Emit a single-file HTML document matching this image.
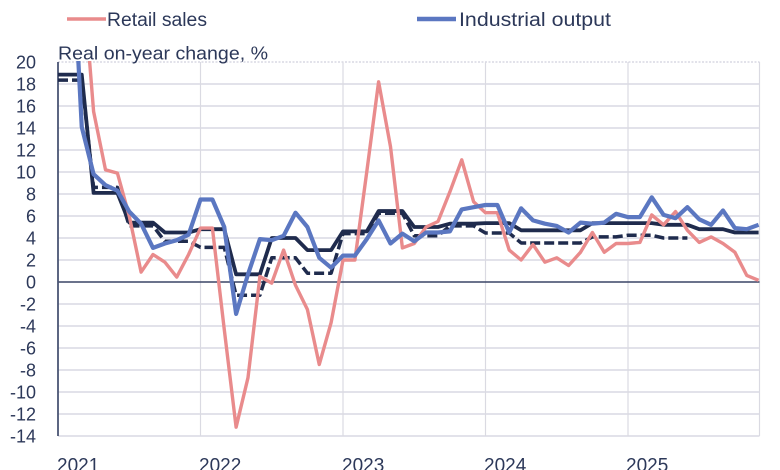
<!DOCTYPE html>
<html>
<head>
<meta charset="utf-8">
<style>
html,body{margin:0;padding:0;background:#fff;}
svg{display:block;}
text{font-family:"Liberation Sans",Arial,sans-serif;fill:#2c3859;}
</style>
</head>
<body>
<svg width="780" height="470" viewBox="0 0 780 470" xmlns="http://www.w3.org/2000/svg">
<defs>
<clipPath id="pc"><rect x="56" y="61" width="706" height="377"/></clipPath>
</defs>
<rect x="0" y="0" width="780" height="470" fill="#fff"/>

<!-- horizontal gridlines -->
<g stroke="#d9d9e4" stroke-width="1.5">
<line x1="58" y1="62" x2="759.5" y2="62" stroke-dasharray="2 1.5"/>
<line x1="58" y1="84" x2="759.5" y2="84"/>
<line x1="58" y1="106" x2="759.5" y2="106"/>
<line x1="58" y1="128" x2="759.5" y2="128"/>
<line x1="58" y1="150" x2="759.5" y2="150"/>
<line x1="58" y1="172" x2="759.5" y2="172"/>
<line x1="58" y1="194" x2="759.5" y2="194"/>
<line x1="58" y1="216" x2="759.5" y2="216"/>
<line x1="58" y1="238" x2="759.5" y2="238"/>
<line x1="58" y1="260" x2="759.5" y2="260"/>
<line x1="58" y1="304" x2="759.5" y2="304"/>
<line x1="58" y1="326" x2="759.5" y2="326"/>
<line x1="58" y1="348" x2="759.5" y2="348"/>
<line x1="58" y1="370" x2="759.5" y2="370"/>
<line x1="58" y1="392" x2="759.5" y2="392"/>
<line x1="58" y1="414" x2="759.5" y2="414"/>
<line x1="58" y1="436" x2="759.5" y2="436"/>
</g>
<!-- vertical gridlines -->
<g stroke="#dadae2" stroke-width="1.2">
<line x1="200.5" y1="62" x2="200.5" y2="436"/>
<line x1="343" y1="62" x2="343" y2="436"/>
<line x1="485.5" y1="62" x2="485.5" y2="436"/>
<line x1="628" y1="62" x2="628" y2="436"/>
<line x1="759.5" y1="62" x2="759.5" y2="436"/>
</g>
<!-- zero line & axis -->
<line x1="58" y1="282" x2="759.5" y2="282" stroke="#3a4566" stroke-width="1.4"/>
<line x1="58" y1="62" x2="58" y2="436" stroke="#4a5574" stroke-width="1.8"/>

<!-- y labels -->
<g font-size="18" text-anchor="end">
<text x="36" y="68.3">20</text>
<text x="36" y="90.3">18</text>
<text x="36" y="112.3">16</text>
<text x="36" y="134.3">14</text>
<text x="36" y="156.3">12</text>
<text x="36" y="178.3">10</text>
<text x="36" y="200.3">8</text>
<text x="36" y="222.3">6</text>
<text x="36" y="244.3">4</text>
<text x="36" y="266.3">2</text>
<text x="36" y="288.3">0</text>
<text x="36" y="310.3">-2</text>
<text x="36" y="332.3">-4</text>
<text x="36" y="354.3">-6</text>
<text x="36" y="376.3">-8</text>
<text x="36" y="398.3">-10</text>
<text x="36" y="420.3">-12</text>
<text x="36" y="442.3">-14</text>
</g>
<!-- x labels -->
<g font-size="19">
<text x="57" y="471.5">2021</text>
<text x="199" y="471.5">2022</text>
<text x="342" y="471.5">2023</text>
<text x="484" y="471.5">2024</text>
<text x="626" y="471.5">2025</text>
</g>

<!-- title -->
<text x="58" y="59.5" font-size="18" textLength="210" lengthAdjust="spacingAndGlyphs">Real on-year change, %</text>

<!-- legend -->
<line x1="67" y1="19" x2="106" y2="19" stroke="#e98b8c" stroke-width="3.6"/>
<text x="107" y="26" font-size="19" textLength="100" lengthAdjust="spacingAndGlyphs">Retail sales</text>
<line x1="417" y1="19" x2="456" y2="19" stroke="#5b77c1" stroke-width="4.6"/>
<text x="459" y="26" font-size="19" textLength="152" lengthAdjust="spacingAndGlyphs">Industrial output</text>

<g clip-path="url(#pc)" fill="none" stroke-linejoin="round" stroke-linecap="butt">
<!-- dashed navy -->
<polyline stroke="#1f2b4d" stroke-width="3.5" stroke-dasharray="10 4" points="58,80.15 81.75,80.15 93.6,187.4 117.4,187.4 129.25,225.9 153,225.9 164.9,241.3 188.6,241.3 200.5,247.35 224.25,247.35 236.1,295.2 259.9,295.2 271.75,257.8 295.5,257.8 307.4,273.2 331.1,273.2 343,233.6 366.75,233.6 378.6,213.25 402.4,213.25 414.25,235.8 438,235.8 449.9,225.9 473.6,225.9 485.5,233.05 509.25,233.05 521.1,242.95 580.5,242.95 592.4,236.9 616.1,236.9 628,235.25 651.75,235.25 663.6,238 687.4,238"/>
<!-- solid navy -->
<polyline stroke="#1f2b4d" stroke-width="3.8" points="58,74.65 81.75,74.65 93.6,192.9 117.4,192.9 129.25,222.6 153,222.6 164.9,232.5 188.6,232.5 200.5,229.2 224.25,229.2 236.1,274.3 259.9,274.3 271.75,238 295.5,238 307.4,250.1 331.1,250.1 343,231.4 366.75,231.4 378.6,211.05 402.4,211.05 414.25,227 438,227 449.9,223.7 473.6,223.7 485.5,223.15 509.25,223.15 521.1,230.3 580.5,230.3 592.4,223.15 616.1,223.15 628,223.15 651.75,223.15 663.6,224.8 687.4,224.8 699.25,229.2 723,229.2 734.9,232.5 758.6,232.5"/>
<!-- retail sales -->
<polyline stroke="#e98b8c" stroke-width="3.4" points="58,-92 69.9,-92 81.75,-37 93.6,111.5 105.5,169.8 117.4,173.1 129.25,216 141.1,272.1 153,254.5 164.9,262.2 176.75,277.05 188.6,254.5 200.5,228.1 212.4,228.1 224.25,329.3 236.1,427.2 248,377.7 259.9,276.5 271.75,283.1 283.6,250.1 295.5,285.3 307.4,309.5 319.25,364.5 331.1,322.7 343,260 354.9,260 366.75,172 378.6,81.8 390.5,146.7 402.4,247.9 414.25,243.5 426.1,227 438,221.5 449.9,191.8 461.75,159.9 473.6,201.7 485.5,212.7 497.4,212.7 509.25,250.1 521.1,260 533,244.6 544.9,262.2 556.75,257.8 568.6,265.5 580.5,252.3 592.4,232.5 604.25,252.3 616.1,243.5 628,243.5 639.9,242.4 651.75,214.9 663.6,224.8 675.5,211.6 687.4,230.3 699.25,242.4 711.1,236.9 723,243.5 734.9,252.3 746.75,275.4 758.6,280.35"/>
<!-- industrial output -->
<polyline stroke="#5b77c1" stroke-width="4.2" points="58,-103 69.9,-103 81.75,126.9 93.6,174.2 105.5,185.2 117.4,190.7 129.25,211.6 141.1,223.7 153,247.9 164.9,243.5 176.75,240.2 188.6,234.7 200.5,199.5 212.4,199.5 224.25,227 236.1,313.9 248,274.3 259.9,239.1 271.75,240.2 283.6,235.8 295.5,212.7 307.4,227 319.25,257.8 331.1,267.7 343,255.6 354.9,255.6 366.75,239.1 378.6,220.4 390.5,243.5 402.4,233.6 414.25,241.3 426.1,232.5 438,232.5 449.9,231.4 461.75,209.4 473.6,207.2 485.5,205 497.4,205 509.25,232.5 521.1,208.3 533,220.4 544.9,223.7 556.75,225.9 568.6,232.5 580.5,222.6 592.4,223.7 604.25,222.6 616.1,213.8 628,217.1 639.9,217.1 651.75,197.3 663.6,214.9 675.5,218.2 687.4,207.2 699.25,219.3 711.1,224.8 723,210.5 734.9,228.1 746.75,229.2 758.6,224.8"/>
</g>
</svg>
</body>
</html>
